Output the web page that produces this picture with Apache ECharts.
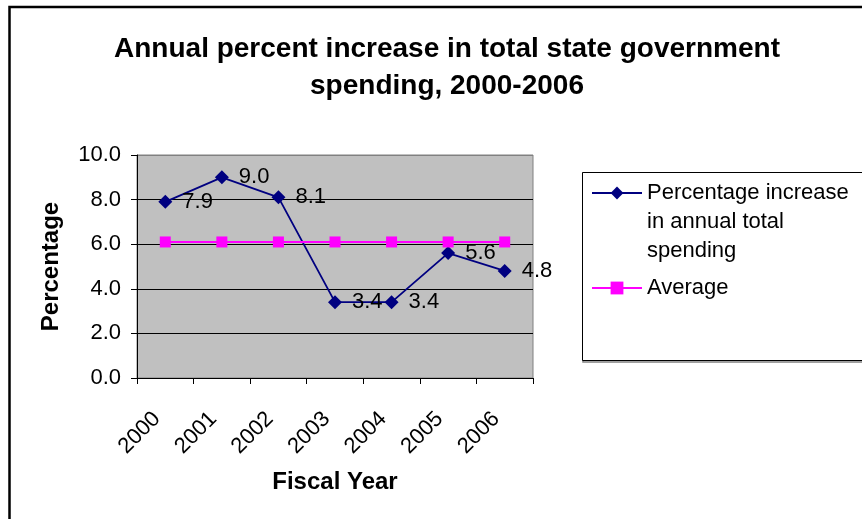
<!DOCTYPE html>
<html>
<head>
<meta charset="utf-8">
<script src="https://cdn.jsdelivr.net/npm/echarts@6/dist/echarts.min.js"></script>
<style>
  html, body { margin: 0; padding: 0; background: #fff; }
  #main { width: 862px; height: 519px; }
</style>
</head>
<body>
<div id="main"></div>
<script>
let years = ['2000', '2001', '2002', '2003', '2004', '2005', '2006'];
let increase = [7.9, 9.0, 8.1, 3.4, 3.4, 5.6, 4.8];
let average = [6.1, 6.1, 6.1, 6.1, 6.1, 6.1, 6.1];
let yTicks = { min: 0, max: 10, interval: 2 };

let nameIncrease = 'Percentage increase\nin annual total\nspending';
let nameAverage = 'Average';

let font = 'Liberation Sans, Arial, sans-serif';

let myChart = echarts.init(document.getElementById('main'));
let option = {
  backgroundColor: '#fff',
  title: {
    text: 'Annual percent increase in total state government\nspending, 2000-2006',
    left: 442,
    top: 26,
    textAlign: 'center',
    textStyle: {
      fontFamily: font,
      fontSize: 28,
      fontWeight: 'bold',
      lineHeight: 37,
      color: '#000'
    }
  },
  graphic: [
    {
      type: 'rect',
      shape: { x: 9.5, y: 7, width: 900, height: 600 },
      style: { fill: 'none', stroke: '#000', lineWidth: 2.5 },
      silent: true
    },
    {
      type: 'rect',
      shape: { x: 583, y: 173, width: 300, height: 189 },
      style: { fill: 'none', stroke: '#808080', lineWidth: 1.5 },
      silent: true
    },
    {
      type: 'rect',
      shape: { x: 582.5, y: 172.5, width: 300, height: 188 },
      style: { fill: '#fff', stroke: '#000', lineWidth: 1 },
      silent: true
    }
  ],
  legend: [
    {
      // two blank lines on top so the icon sits on the first text line
      data: [nameIncrease],
      formatter: function (name) { return '\n\n' + name; },
      left: 591,
      top: 193 - 72.5,
      orient: 'vertical',
      itemWidth: 50,
      itemHeight: 16,
      itemGap: 0,
      padding: 0,
      textStyle: {
        fontFamily: font,
        fontSize: 22,
        lineHeight: 29,
        color: '#000'
      }
    },
    {
      data: [nameAverage],
      left: 591,
      top: 288 - 14.5,
      orient: 'vertical',
      itemWidth: 50,
      itemHeight: 16,
      padding: 0,
      textStyle: {
        fontFamily: font,
        fontSize: 22,
        lineHeight: 29,
        color: '#000'
      }
    }
  ],
  grid: {
    left: 137,
    top: 155,
    width: 396,
    height: 223,
    show: true,
    backgroundColor: '#C0C0C0',
    borderColor: '#808080',
    borderWidth: 1
  },
  xAxis: {
    type: 'category',
    data: years,
    boundaryGap: true,
    name: 'Fiscal Year',
    nameLocation: 'middle',
    nameGap: 92,
    nameTextStyle: {
      fontFamily: font,
      fontSize: 24,
      fontWeight: 'bold',
      color: '#000'
    },
    axisLine: { lineStyle: { color: '#000', width: 1 } },
    axisTick: { show: true, inside: false, length: 6, lineStyle: { color: '#000' } },
    axisLabel: {
      rotate: 45,
      margin: 29,
      padding: [0, 12, 0, 0],
      fontFamily: font,
      fontSize: 22,
      color: '#000',
      interval: 0
    }
  },
  yAxis: {
    type: 'value',
    min: yTicks.min,
    max: yTicks.max,
    interval: yTicks.interval,
    name: 'Percentage',
    nameLocation: 'middle',
    nameGap: 74,
    nameTextStyle: {
      fontFamily: font,
      fontSize: 24,
      fontWeight: 'bold',
      color: '#000'
    },
    axisLine: { show: true, lineStyle: { color: '#000', width: 1 } },
    axisTick: { show: true, inside: false, length: 6, lineStyle: { color: '#000' } },
    axisLabel: {
      margin: 16,
      fontFamily: font,
      fontSize: 22,
      color: '#000',
      formatter: function (v) { return v.toFixed(1); }
    },
    splitLine: {
      show: true,
      lineStyle: { color: ['#000', '#000', '#000', '#000', '#000', '#808080'], width: 1 }
    }
  },
  series: [
    {
      name: nameIncrease,
      type: 'line',
      data: increase,
      symbol: 'diamond',
      symbolSize: 14,
      color: '#000080',
      lineStyle: { color: '#000080', width: 1.8 },
      itemStyle: { color: '#000080' },
      label: {
        show: true,
        position: 'right',
        distance: 10,
        fontFamily: font,
        fontSize: 22,
        color: '#000',
        formatter: function (p) { return p.value.toFixed(1); }
      },
      animation: false
    },
    {
      name: nameAverage,
      type: 'line',
      data: average,
      symbol: 'rect',
      symbolSize: 11,
      color: '#FF00FF',
      lineStyle: { color: '#FF00FF', width: 2 },
      itemStyle: { color: '#FF00FF' },
      animation: false
    }
  ]
};
myChart.setOption(option);
</script>
</body>
</html>
